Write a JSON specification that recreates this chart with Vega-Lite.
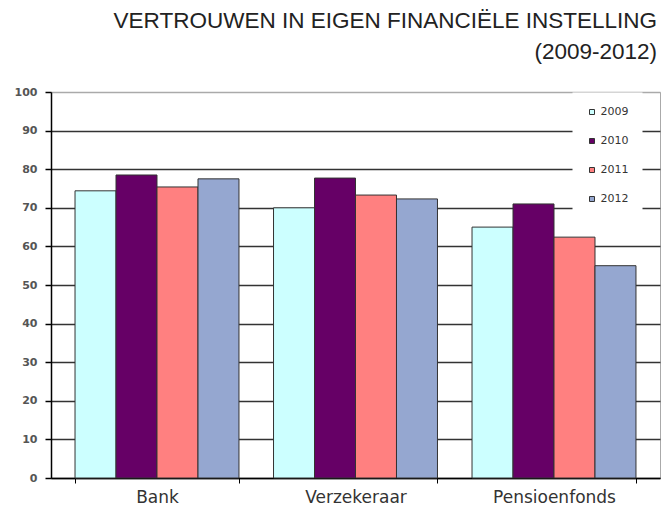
{
  "$schema": "https://vega.github.io/schema/vega-lite/v6.json",
  "width": 609,
  "height": 386,
  "autosize": {"type": "none"},
  "padding": {"left": 51, "top": 92, "right": 7, "bottom": 34},
  "background": "white",
  "title": {
    "text": ["VERTROUWEN IN EIGEN FINANCIËLE INSTELLING", "(2009-2012)"],
    "anchor": "end",
    "frame": "group",
    "dx": -3,
    "offset": 23,
    "font": "Liberation Sans",
    "fontSize": 22.5,
    "fontWeight": "normal",
    "color": "#222",
    "lineHeight": 31
  },
  "data": {
    "values": [
      {"instelling": "Bank", "jaar": "2009", "waarde": 74.4},
      {"instelling": "Bank", "jaar": "2010", "waarde": 78.5},
      {"instelling": "Bank", "jaar": "2011", "waarde": 75.4},
      {"instelling": "Bank", "jaar": "2012", "waarde": 77.5},
      {"instelling": "Verzekeraar", "jaar": "2009", "waarde": 70.0},
      {"instelling": "Verzekeraar", "jaar": "2010", "waarde": 77.7},
      {"instelling": "Verzekeraar", "jaar": "2011", "waarde": 73.3},
      {"instelling": "Verzekeraar", "jaar": "2012", "waarde": 72.3},
      {"instelling": "Pensioenfonds", "jaar": "2009", "waarde": 65.0},
      {"instelling": "Pensioenfonds", "jaar": "2010", "waarde": 71.0},
      {"instelling": "Pensioenfonds", "jaar": "2011", "waarde": 62.4},
      {"instelling": "Pensioenfonds", "jaar": "2012", "waarde": 55.0}
    ]
  },
  "mark": {"type": "bar", "stroke": "#333", "strokeWidth": 1},
  "encoding": {
    "x": {
      "field": "instelling",
      "type": "nominal",
      "sort": ["Bank", "Verzekeraar", "Pensioenfonds"],
      "scale": {"paddingInner": 0.174, "paddingOuter": 0.121},
      "axis": {
        "title": null,
        "labelAngle": 0,
        "labelFont": "DejaVu Sans",
        "labelFontSize": 17,
        "labelColor": "#333",
        "labelPadding": 6,
        "domainColor": "#000",
        "domainWidth": 1.5,
        "tickBand": "extent",
        "tickColor": "#000",
        "tickSize": 5,
        "grid": false
      }
    },
    "xOffset": {
      "field": "jaar",
      "type": "nominal",
      "scale": {"paddingInner": 0, "paddingOuter": 0}
    },
    "y": {
      "field": "waarde",
      "type": "quantitative",
      "scale": {"domain": [0, 100], "nice": false},
      "axis": {
        "title": null,
        "values": [0, 10, 20, 30, 40, 50, 60, 70, 80, 90, 100],
        "labelFont": "DejaVu Sans",
        "labelFontSize": 11,
        "labelFontWeight": "bold",
        "labelColor": "#555",
        "labelPadding": 8,
        "domainColor": "#000",
        "domainWidth": 1.5,
        "tickColor": "#000",
        "tickSize": 6,
        "tickWidth": 1.5,
        "grid": true,
        "gridColor": {"condition": {"test": "datum.value === 100", "value": "#aaa"}, "value": "#333"},
        "gridWidth": 1.5
      }
    },
    "color": {
      "field": "jaar",
      "type": "nominal",
      "scale": {
        "domain": ["2009", "2010", "2011", "2012"],
        "range": ["#ccffff", "#660066", "#ff8080", "#95a7d0"]
      },
      "legend": {
        "title": null,
        "orient": "none",
        "legendX": 521.5,
        "legendY": 0.5,
        "fillColor": "white",
        "padding": 14,
        "symbolType": "square",
        "symbolSize": 25,
        "symbolStrokeColor": "#333",
        "symbolStrokeWidth": 1,
        "labelFont": "DejaVu Sans",
        "labelFontSize": 11,
        "labelColor": "#333",
        "labelOffset": 3,
        "rowPadding": 17
      }
    }
  },
  "config": {
    "view": {"stroke": "#aaa", "strokeWidth": 1}
  }
}
